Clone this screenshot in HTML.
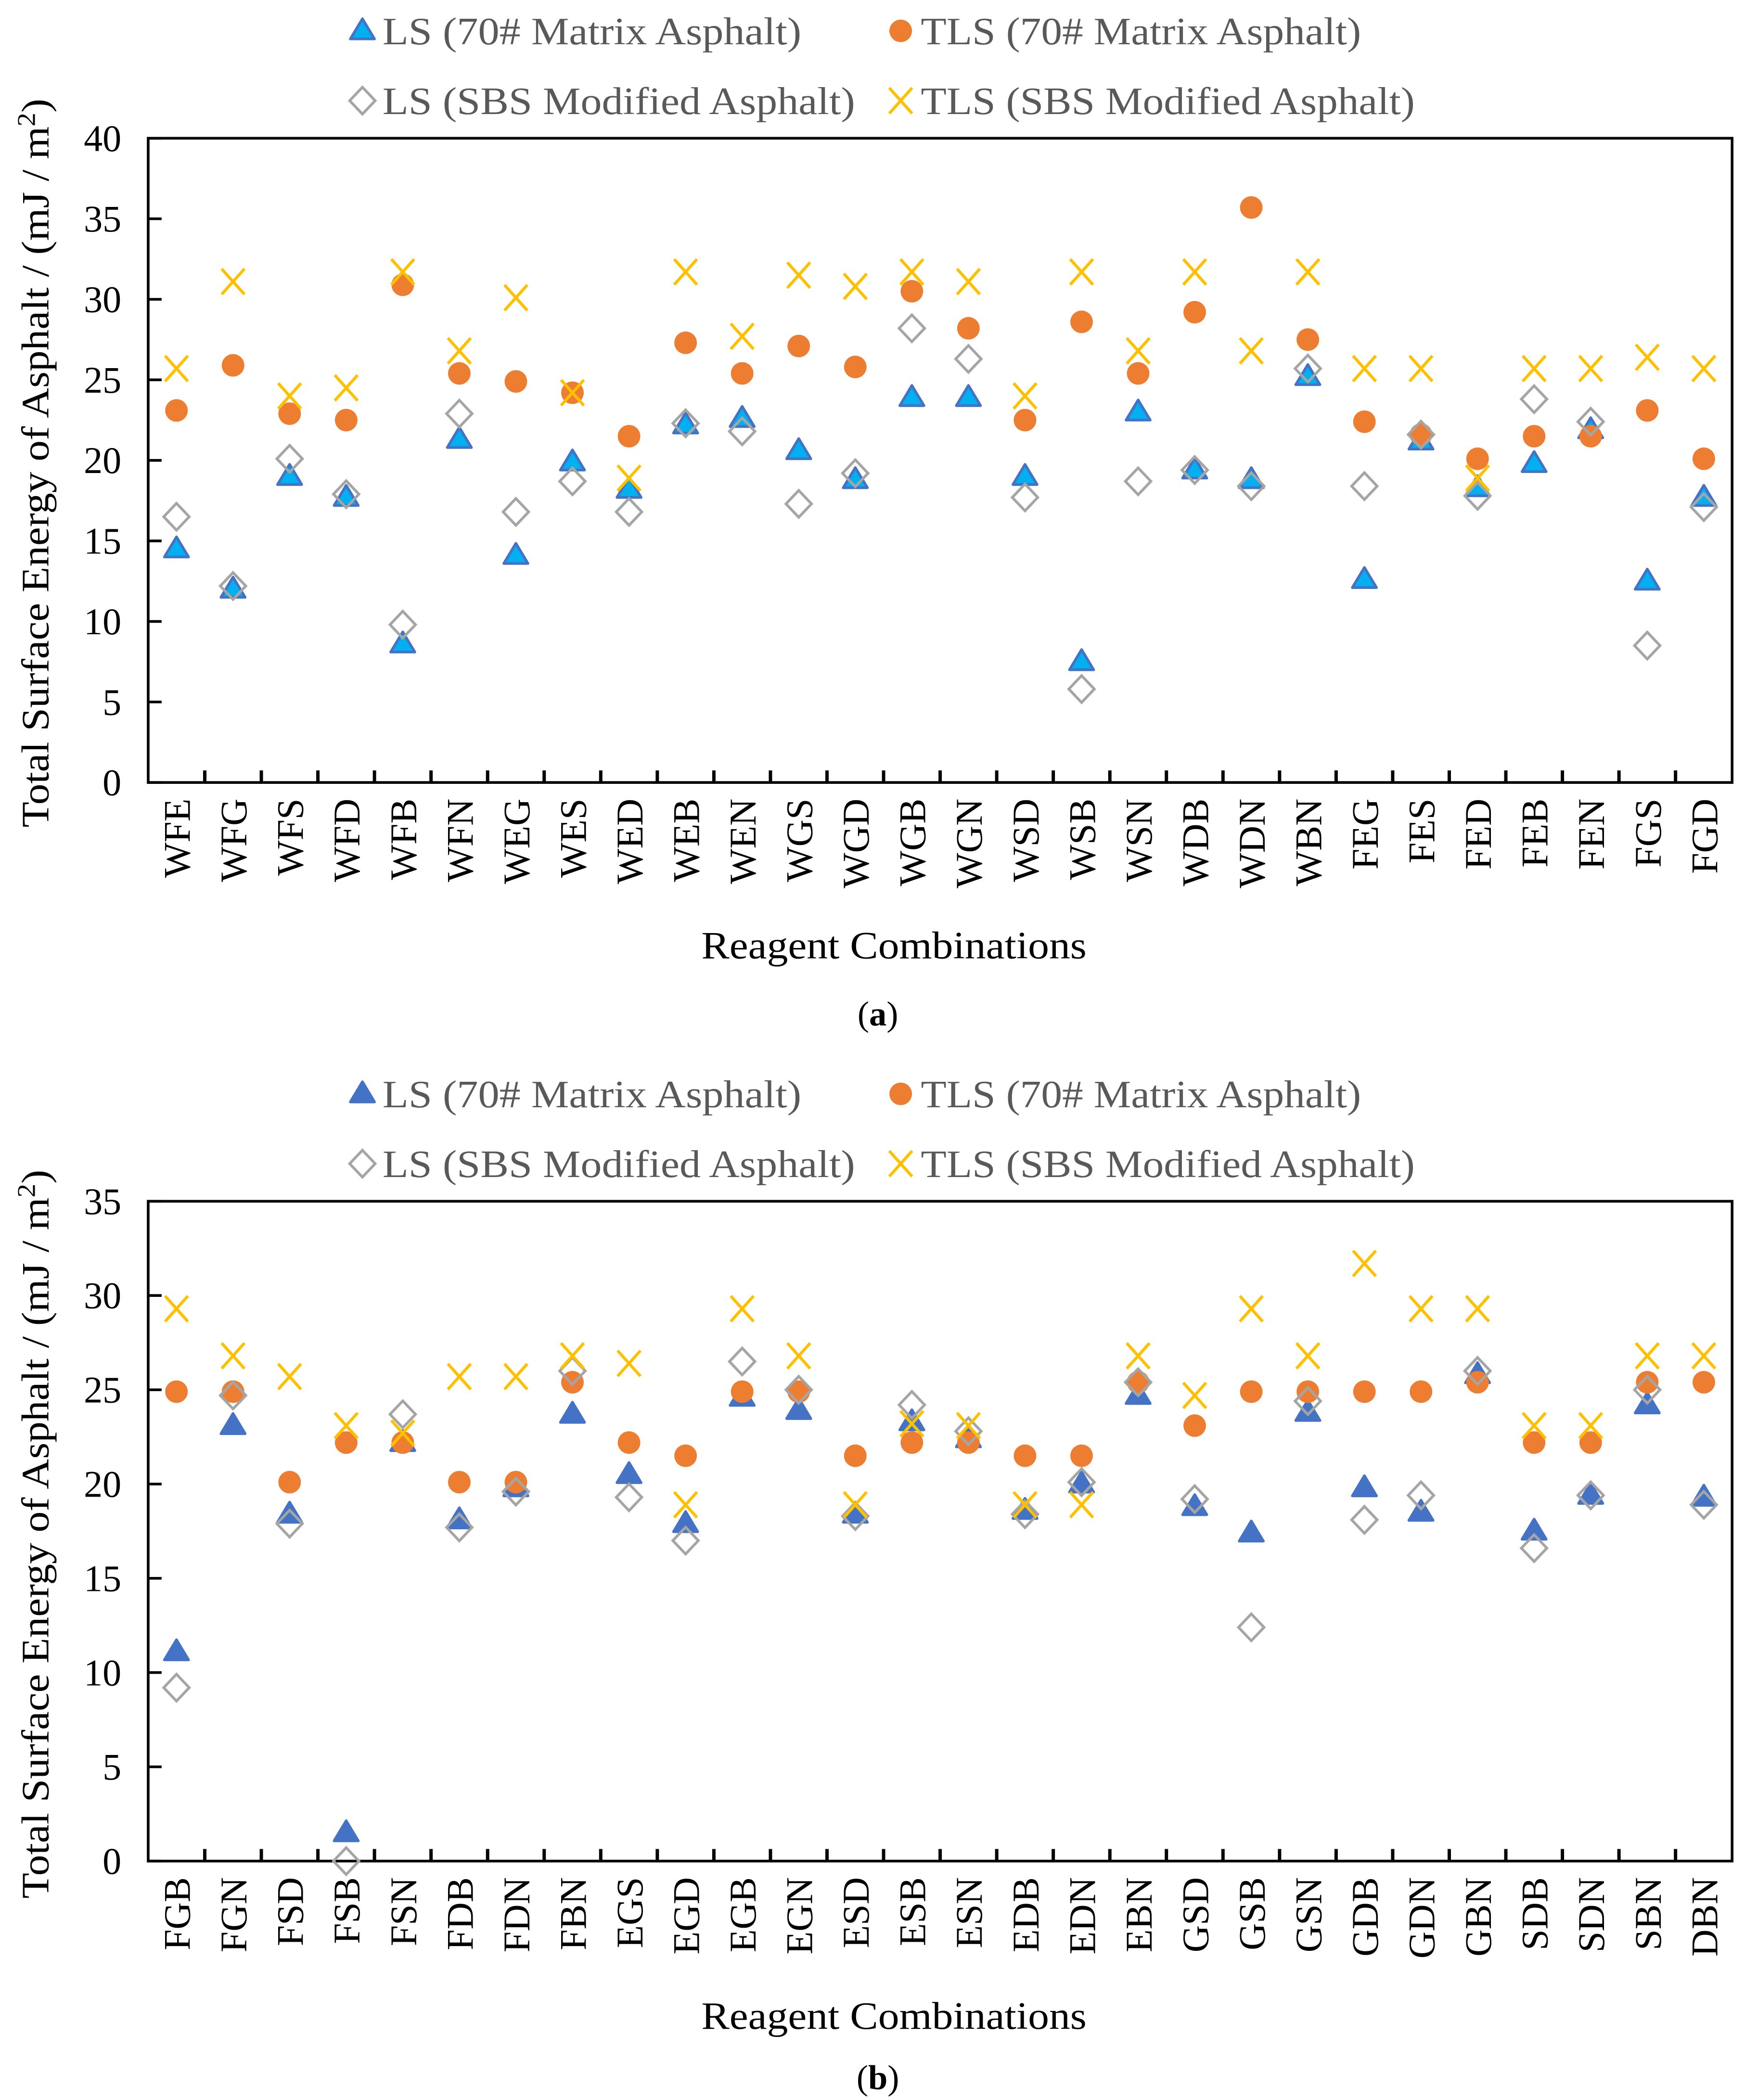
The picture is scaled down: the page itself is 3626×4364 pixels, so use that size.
<!DOCTYPE html>
<html><head><meta charset="utf-8"><style>
html,body{margin:0;padding:0;background:#fff;}
svg{display:block;}
text{font-family:"Liberation Serif",serif;}
</style></head><body>
<svg id="chart" xmlns="http://www.w3.org/2000/svg" width="3626" height="4364" viewBox="0 0 1300 1564.6">
<rect x="0" y="0" width="1300" height="1564.6" fill="#fff"/>
</svg>
<script>
const catsA = ["WFE","WFG","WFS","WFD","WFB","WFN","WEG","WES","WED","WEB","WEN","WGS","WGD","WGB","WGN","WSD","WSB","WSN","WDB","WDN","WBN","FEG","FES","FED","FEB","FEN","FGS","FGD"];
const lsMatrixA = [14.5,12.0,19.0,17.7,8.6,21.3,14.1,19.9,18.2,22.2,22.6,20.6,18.8,23.9,23.9,19.0,7.5,23.0,19.4,18.8,25.2,12.6,21.2,18.3,19.8,21.9,12.5,17.7];
const tlsMatrixA = [23.1,25.9,22.9,22.5,30.9,25.4,24.9,24.2,21.5,27.3,25.4,27.1,25.8,30.5,28.2,22.5,28.6,25.4,29.2,35.7,27.5,22.4,21.6,20.1,21.5,21.5,23.1,20.1];
const lsSbsA = [16.5,12.2,20.1,17.9,9.8,22.9,16.8,18.7,16.8,22.3,21.8,17.3,19.2,28.2,26.3,17.7,5.8,18.7,19.4,18.4,25.7,18.4,21.6,17.8,23.8,22.4,8.5,17.1];
const tlsSbsA = [25.7,31.1,24.0,24.5,31.7,26.8,30.1,24.2,18.9,31.7,27.7,31.5,30.8,31.7,31.1,24.0,31.7,26.8,31.7,26.8,31.7,25.7,25.7,18.9,25.7,25.7,26.4,25.7];
const ticksA = [0,5,10,15,20,25,30,35,40];

const catsB = ["FGB","FGN","FSD","FSB","FSN","FDB","FDN","FBN","EGS","EGD","EGB","EGN","ESD","ESB","ESN","EDB","EDN","EBN","GSD","GSB","GSN","GDB","GDN","GBN","SDB","SDN","SBN","DBN"];
const lsMatrixB = [11.1,23.1,18.4,1.5,22.2,18.1,19.8,23.7,20.5,17.9,24.6,23.9,18.4,23.3,22.4,18.6,20.0,24.7,18.8,17.4,23.8,19.8,18.5,25.8,17.5,19.4,24.2,19.3];
const tlsMatrixB = [24.9,24.9,20.1,22.2,22.2,20.1,20.1,25.4,22.2,21.5,24.9,24.9,21.5,22.2,22.2,21.5,21.5,25.4,23.1,24.9,24.9,24.9,24.9,25.4,22.2,22.2,25.4,25.4];
const lsSbsB = [9.2,24.7,17.9,0.0,23.7,17.7,19.6,26.0,19.3,17.0,26.5,25.0,18.3,24.2,22.8,18.4,20.1,25.4,19.2,12.4,24.4,18.1,19.4,26.0,16.6,19.4,25.0,18.9];
const tlsSbsB = [29.3,26.8,25.7,23.1,22.7,25.7,25.7,26.8,26.4,18.9,29.3,26.8,18.9,23.2,23.1,18.9,18.9,26.8,24.7,29.3,26.8,31.7,29.3,29.3,23.1,23.1,26.8,26.8];
const ticksB = [0,5,10,15,20,25,30,35];

const NS = "http://www.w3.org/2000/svg";
const svg = document.getElementById('chart');
function mk(tag, attrs, parent, txt){
  const e = document.createElementNS(NS, tag);
  for (const k in attrs) e.setAttribute(k, attrs[k]);
  if (txt !== undefined) e.textContent = txt;
  (parent || svg).appendChild(e);
  return e;
}
const X0 = 110.4, X1 = 1290.4;

function tri(g, x, y, fill, stroke){
  return mk('polygon', {points:`${x},${y-9} ${x+9},${y+6} ${x-9},${y+6}`, fill:fill, stroke:stroke, 'stroke-width':2, 'stroke-linejoin':'round'}, g);
}
function circ(g, x, y){ return mk('circle', {cx:x, cy:y, r:8.4, fill:'#ED7D31'}, g); }
function dia(g, x, y){ return mk('polygon', {points:`${x},${y-10} ${x+9.5},${y} ${x},${y+10} ${x-9.5},${y}`, fill:'none', stroke:'#A5A5A5', 'stroke-width':2}, g); }
function cross(g, x, y){ return mk('path', {d:`M${x-8.5},${y-9.5}L${x+8.5},${y+9.5}M${x+8.5},${y-9.5}L${x-8.5},${y+9.5}`, stroke:'#FFC000', 'stroke-width':2.2, fill:'none'}, g); }

function drawChart(o){
  const g = mk('g', {});
  
  
  const yS = v => o.yb - (v / o.ymax) * (o.yb - o.yt);
  const bw = (X1 - X0) / o.cats.length;
  const xS = i => X0 + bw * (i + 0.5);
  const leg = mk('g', {}, g);
  
  
  const ly1 = o.yt - 80, ly2 = o.yt - 28;
  const entries = [
    [270, ly1, 'LS (70# Matrix Asphalt)', 'tri', 312],
    [671, ly1, 'TLS (70# Matrix Asphalt)', 'circ', 328],
    [270, ly2, 'LS (SBS Modified Asphalt)', 'dia', 352],
    [671, ly2, 'TLS (SBS Modified Asphalt)', 'x', 368]
  ];
  entries.forEach(en => {
    const eg = mk('g', {}, leg);
    
    
    const [lx, ly, label, kind, tl] = en;
    if (kind === 'tri') tri(eg, lx, ly, o.triFill, '#4472C4');
    if (kind === 'circ') circ(eg, lx, ly);
    if (kind === 'dia') dia(eg, lx, ly);
    if (kind === 'x') cross(eg, lx, ly);
    mk('text', {x:lx+15, y:ly+10, 'font-size':29, fill:'#595959', textLength:tl, lengthAdjust:'spacingAndGlyphs'}, eg, label);
  });
  const fr = mk('rect', {x:X0, y:o.yt, width:X1-X0, height:o.yb-o.yt, fill:'none', stroke:'#000', 'stroke-width':2}, g);
  
  
  o.ticks.forEach(t => {
    const y = yS(t);
    mk('line', {x1:X0, x2:X0+10, y1:y, y2:y, stroke:'#000', 'stroke-width':2}, g);
    const tl = mk('text', {x:X0-20, y:y+9.5, 'font-size':28, 'text-anchor':'end', fill:'#000'}, g, String(t));
    
    
  });
  o.cats.forEach((c, i) => {
    if (i > 0) mk('line', {x1:X0+bw*i, x2:X0+bw*i, y1:o.yb, y2:o.yb-9, stroke:'#000', 'stroke-width':2.5}, g);
    const x = xS(i);
    const tl = mk('text', {x:0, y:0, 'font-size':28, 'text-anchor':'end', fill:'#000', transform:`translate(${x+10},${o.yb+12}) rotate(-90)`}, g, c);
    
    
  });
  const xt = mk('text', {x:666, y:o.yb+o.xtOff, 'font-size':29, 'text-anchor':'middle', fill:'#000', textLength:287, lengthAdjust:'spacingAndGlyphs'}, g, 'Reagent Combinations');
  
  
  const yt = mk('text', {x:0, y:0, 'font-size':29, 'text-anchor':'middle', fill:'#000', transform:`translate(36,${o.ytc}) rotate(-90)`, textLength:543, lengthAdjust:'spacingAndGlyphs'}, g);
  
  
  mk('tspan', {}, yt, 'Total Surface Energy of Asphalt / (mJ / m');
  mk('tspan', {dy:-10, 'font-size':19}, yt, '2');
  mk('tspan', {dy:10}, yt, ')');
  const s1 = mk('g', {}, g);  
  const s2 = mk('g', {}, g);  
  const s3 = mk('g', {}, g);  
  const s4 = mk('g', {}, g);  
  o.cats.forEach((c, i) => {
    const x = xS(i);
    let m = tri(s1, x, yS(o.ls[i]), o.triFill, '#4472C4');
    
    
    m = circ(s2, x, yS(o.tls[i]));
    
    
    m = dia(s3, x, yS(o.lsS[i]));
    
    
    m = cross(s4, x, yS(o.tlsS[i]));
    
    
  });
  const cap = mk('text', {x:654, y:o.yb+o.capOff, 'font-size':26, 'text-anchor':'middle', fill:'#000'}, g);
  
  
  mk('tspan', {}, cap, '(');
  mk('tspan', {'font-weight':'bold'}, cap, o.cap);
  mk('tspan', {}, cap, ')');
}
drawChart({name:'chart-a', cats:catsA, ls:lsMatrixA, tls:tlsMatrixA, lsS:lsSbsA, tlsS:tlsSbsA, ticks:ticksA, ymax:40, yt:103, yb:583, ytc:345, triFill:'#00B0F0', cap:'a', xtOff:131, capOff:181});
drawChart({name:'chart-b', cats:catsB, ls:lsMatrixB, tls:tlsMatrixB, lsS:lsSbsB, tlsS:tlsSbsB, ticks:ticksB, ymax:35, yt:895, yb:1386.6, ytc:1143, triFill:'#4472C4', cap:'b', xtOff:125, capOff:170});
</script>
</body></html>
